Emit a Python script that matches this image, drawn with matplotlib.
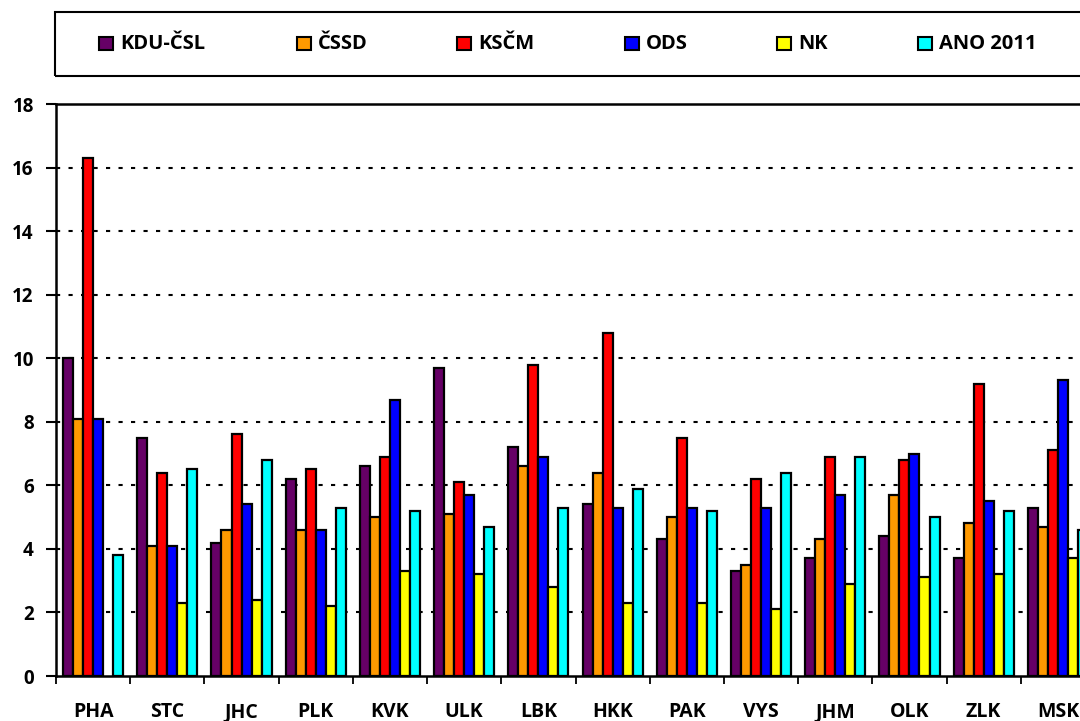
import numpy as np
import matplotlib
matplotlib.use("Agg")
import matplotlib.pyplot as plt
from matplotlib.patches import Rectangle

# Kraje
kraje = ["PHA", "STC", "JHC", "PLK", "KVK", "ULK", "LBK",
         "HKK", "PAK", "VYS", "JHM", "OLK", "ZLK", "MSK"]

# Hodnoty jednotlivych stran (odhad z grafu)
kdu_csl = [10.0, 7.5, 4.2, 6.2, 6.6, 9.7, 7.2, 5.4, 4.3, 3.3, 3.7, 4.4, 3.7, 5.3]
cssd = [8.1, 4.1, 4.6, 4.6, 5.0, 5.1, 6.6, 6.4, 5.0, 3.5, 4.3, 5.7, 4.8, 4.7]
kscm = [16.3, 6.4, 7.6, 6.5, 6.9, 6.1, 9.8, 10.8, 7.5, 6.2, 6.9, 6.8, 9.2, 7.1]
ods = [8.1, 4.1, 5.4, 4.6, 8.7, 5.7, 6.9, 5.3, 5.3, 5.3, 5.7, 7.0, 5.5, 9.3]
nk = [np.nan, 2.3, 2.4, 2.2, 3.3, 3.2, 2.8, 2.3, 2.3, 2.1, 2.9, 3.1, 3.2, 3.7]
ano = [3.8, 6.5, 6.8, 5.3, 5.2, 4.7, 5.3, 5.9, 5.2, 6.4, 6.9, 5.0, 5.2, 4.6]

strany = ["KDU-ČSL", "ČSSD", "KSČM", "ODS", "NK", "ANO 2011"]
data = [kdu_csl, cssd, kscm, ods, nk, ano]
barvy = ["#660066", "#FF9900", "#FF0000", "#0000FF", "#FFFF00", "#00FFFF"]

plt.rcParams['font.family'] = ['Open Sans', 'DejaVu Sans']
plt.rcParams['font.weight'] = 'bold'

W, H = 1080, 721
fig = plt.figure(figsize=(W / 100, H / 100), dpi=100)

# osa - prava cast grafu je v originale oriznuta
left, right, top, bottom = 56, 1095, 104, 676
ax = fig.add_axes([left / W, 1 - bottom / H, (right - left) / W, (bottom - top) / H])

sirka = 0.135
x = np.arange(len(kraje))
for j, (hodnoty, barva) in enumerate(zip(data, barvy)):
    ax.bar(x + 0.5 + (j - 2.5) * sirka, hodnoty, width=sirka, color=barva,
           edgecolor="black", linewidth=1.6, zorder=3)

ax.set_xlim(0, len(kraje))
ax.set_ylim(0, 18)
ax.set_yticks(np.arange(0, 19, 2))
ax.set_xticks(x + 0.5)
ax.set_xticklabels(kraje)
ax.set_xticks(np.arange(0, len(kraje) + 1), minor=True)

# mrizka teckovane
for v in np.arange(2, 18, 2):
    ax.axhline(v, color="black", lw=1.5, linestyle=(0, (2, 4)), zorder=1)

ax.tick_params(axis="y", which="major", direction="out", length=7, width=1.5,
               pad=9, labelsize=13.5)
ax.tick_params(axis="x", which="major", length=0, pad=19, labelsize=14)
ax.tick_params(axis="x", which="minor", direction="out", length=6, width=1.3)
for lab in ax.get_xticklabels() + ax.get_yticklabels():
    lab.set_fontweight("bold")

for s in ["left", "bottom", "top"]:
    ax.spines[s].set_linewidth(1.8)
ax.spines["right"].set_visible(False)

# legenda v ramecku nahore
fig.patches.append(Rectangle((55 / W, 1 - 76 / H), 1.05, 64 / H,
                             transform=fig.transFigure, fill=False,
                             edgecolor="black", linewidth=1.5))
pozice = [99, 297, 457, 625, 777, 918]
for px, nazev, barva in zip(pozice, strany, barvy):
    fig.patches.append(Rectangle((px / W, 1 - 50 / H), 14 / W, 13 / H,
                                 transform=fig.transFigure, facecolor=barva,
                                 edgecolor="black", linewidth=1.5))
    fig.text((px + 21) / W, 1 - 44 / H, nazev, ha="left", va="center",
             fontsize=14.5, fontweight="bold")

fig.savefig("out.png", dpi=100)
